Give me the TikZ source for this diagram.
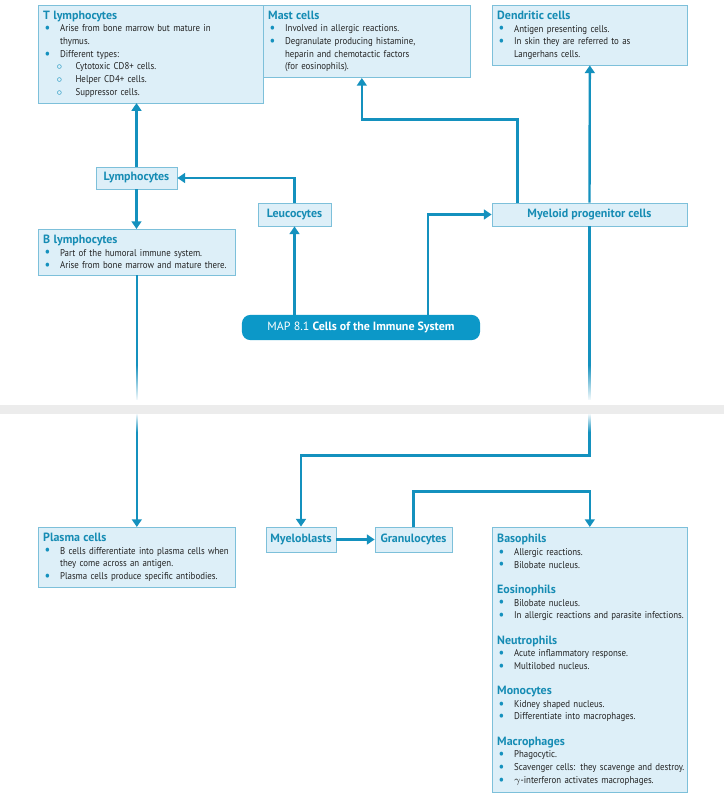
\documentclass[tikz,border=0pt]{standalone}
\usepackage{fontspec}
\setmainfont{PT Sans}
\newfontfamily\cellbody[FakeStretch=0.9]{PT Sans}
\usepackage{xcolor}
\usetikzlibrary{arrows.meta,calc,fadings}
\definecolor{cellLine}{RGB}{20,145,190}
\definecolor{cellFill}{RGB}{221,239,248}
\definecolor{cellDraw}{RGB}{125,192,218}
\definecolor{cellTitle}{RGB}{22,140,180}
\definecolor{cellMap}{RGB}{12,152,200}
\definecolor{cellGap}{RGB}{236,236,236}
\definecolor{cellText}{RGB}{35,35,35}

\newcommand{\cellhead}[1]{{\normalfont\fontsize{8.5}{11}\selectfont\bfseries\color{cellTitle}#1}\par}
\newcommand{\celldot}{\textcolor{cellLine}{\raisebox{-0.6pt}{\fontsize{10}{9}\selectfont\textbullet}}}
\newcommand{\cellitem}{\par\noindent\hangindent=12pt\hangafter=1\makebox[12pt][l]{\hspace{1pt}\celldot}}
\newcommand{\cellsub}{\par\noindent\hangindent=23pt\hangafter=1\makebox[23pt][l]{\hspace{9.5pt}\textcolor{cellLine}{$\circ$}}}

\begin{document}
\begin{tikzpicture}[
    x=0.025cm, y=-0.025cm,
    info/.style={rectangle, draw=cellDraw, fill=cellFill, anchor=north west, align=left, inner xsep=3.5pt, inner ysep=4pt, text=cellText, font=\cellbody\fontsize{7}{9}\selectfont},
    tag/.style={rectangle, draw=cellDraw, fill=cellFill, font=\fontsize{8.5}{10}\selectfont\bfseries, text=cellTitle, inner sep=0pt},
    mapbox/.style={rectangle, rounded corners=6pt, fill=cellMap, text=white, font=\fontsize{8.5}{10}\selectfont, minimum width=5.95cm, minimum height=0.63cm},
    link/.style={-{Triangle[width=7pt,length=5.5pt]}, draw=cellLine, line width=1.7pt}
]
\useasboundingbox (0,0) rectangle (724,800);
\fill[white] (0,0) rectangle (724,800);

% Upper boxes
\node[info, text width=5.38cm] (tcell) at (38,5) {\cellhead{T lymphocytes}\cellitem Arise from bone marrow but mature in\newline thymus.\cellitem Different types:\cellsub Cytotoxic CD8+ cells.\cellsub Helper CD4+ cells.\cellsub Suppressor cells.\par};
\node[info, text width=4.93cm] (mast) at (263,5) {\cellhead{Mast cells}\cellitem Involved in allergic reactions.\cellitem Degranulate producing histamine,\newline heparin and chemotactic factors\newline (for eosinophils).\par};
\node[info, text width=4.63cm] (dendritic) at (492,5) {\cellhead{Dendritic cells}\cellitem Antigen presenting cells.\cellitem In skin they are referred to as\newline Langerhans cells.\par};
\node[info, text width=4.68cm] (bcell) at (38,229) {\cellhead{B lymphocytes}\cellitem Part of the humoral immune system.\cellitem Arise from bone marrow and mature there.\par};

% Cell types
\node[tag, minimum width=2.03cm, minimum height=0.55cm] (lymph) at (136.5,178) {Lymphocytes};
\node[tag, minimum width=1.83cm, minimum height=0.58cm] (leuco) at (294.5,214.5) {Leucocytes};
\node[tag, minimum width=4.88cm, minimum height=0.58cm] (myeloid) at (589.5,214.5) {Myeloid progenitor cells};
\node[mapbox] (mapLabel) at (361,327.5) {MAP 8.1 \textbf{Cells of the Immune System}};
\coordinate (mapRight) at (428,315);

% Lower boxes
\node[info, text width=4.68cm] (plasma) at (38,527) {\cellhead{Plasma cells}\cellitem B cells differentiate into plasma cells when\newline they come across an antigen.\cellitem Plasma cells produce specific antibodies.\par};
\node[tag, minimum width=1.75cm, minimum height=0.63cm] (myeloblast) at (301,539.5) {Myeloblasts};
\node[tag, minimum width=1.93cm, minimum height=0.63cm] (granulo) at (413.5,539.5) {Granulocytes};
\node[info, text width=4.63cm, inner ysep=5pt] (granBox) at (492,527) {\cellhead{Basophils}\cellitem Allergic reactions.\cellitem Bilobate nucleus.\par\vspace{9pt}
\cellhead{Eosinophils}\cellitem Bilobate nucleus.\cellitem \mbox{In allergic reactions and parasite infections.}\par\vspace{9pt}
\cellhead{Neutrophils}\cellitem Acute inflammatory response.\cellitem Multilobed nucleus.\par\vspace{9pt}
\cellhead{Monocytes}\cellitem Kidney shaped nucleus.\cellitem Differentiate into macrophages.\par\vspace{9pt}
\cellhead{Macrophages}\cellitem Phagocytic.\cellitem \mbox{Scavenger cells: they scavenge and destroy.}\cellitem $\gamma$-interferon activates macrophages.\par};

% Connections
\draw[link] (lymph.north) -- (lymph.north |- tcell.south);
\draw[link] (lymph.south) -- (lymph.south |- bcell.north);
\draw[link] (leuco.north) |- (lymph.east);
\draw[link] (leuco.south |- mapLabel.north) -- (leuco.south);
\draw[link] (mapRight) |- (myeloid.west);
\draw[link] ($(myeloid.north west)+(26,0)$) -- ++(0,-83) -| ($(mast.south)+(-5,0)$);
\draw[link] (myeloid.north) -- (dendritic.south);
\draw[link] (myeloid.south) -- ++(0,229) -| (myeloblast.north);
\draw[link] (bcell.south) -- (plasma.north);
\draw[link] (myeloblast.east) -- (granulo.west);
\draw[link] (granulo.north) -- ++(0,-35) -| (granBox.north);

% Page gap
\fill[white, path fading=north] (0,365) rectangle (724,401);
\fill[white] (0,400) rectangle (724,414);
\fill[white, path fading=south] (0,413) rectangle (724,432);
\fill[cellGap] (0,405) rectangle (724,414);
\end{tikzpicture}
\end{document}
